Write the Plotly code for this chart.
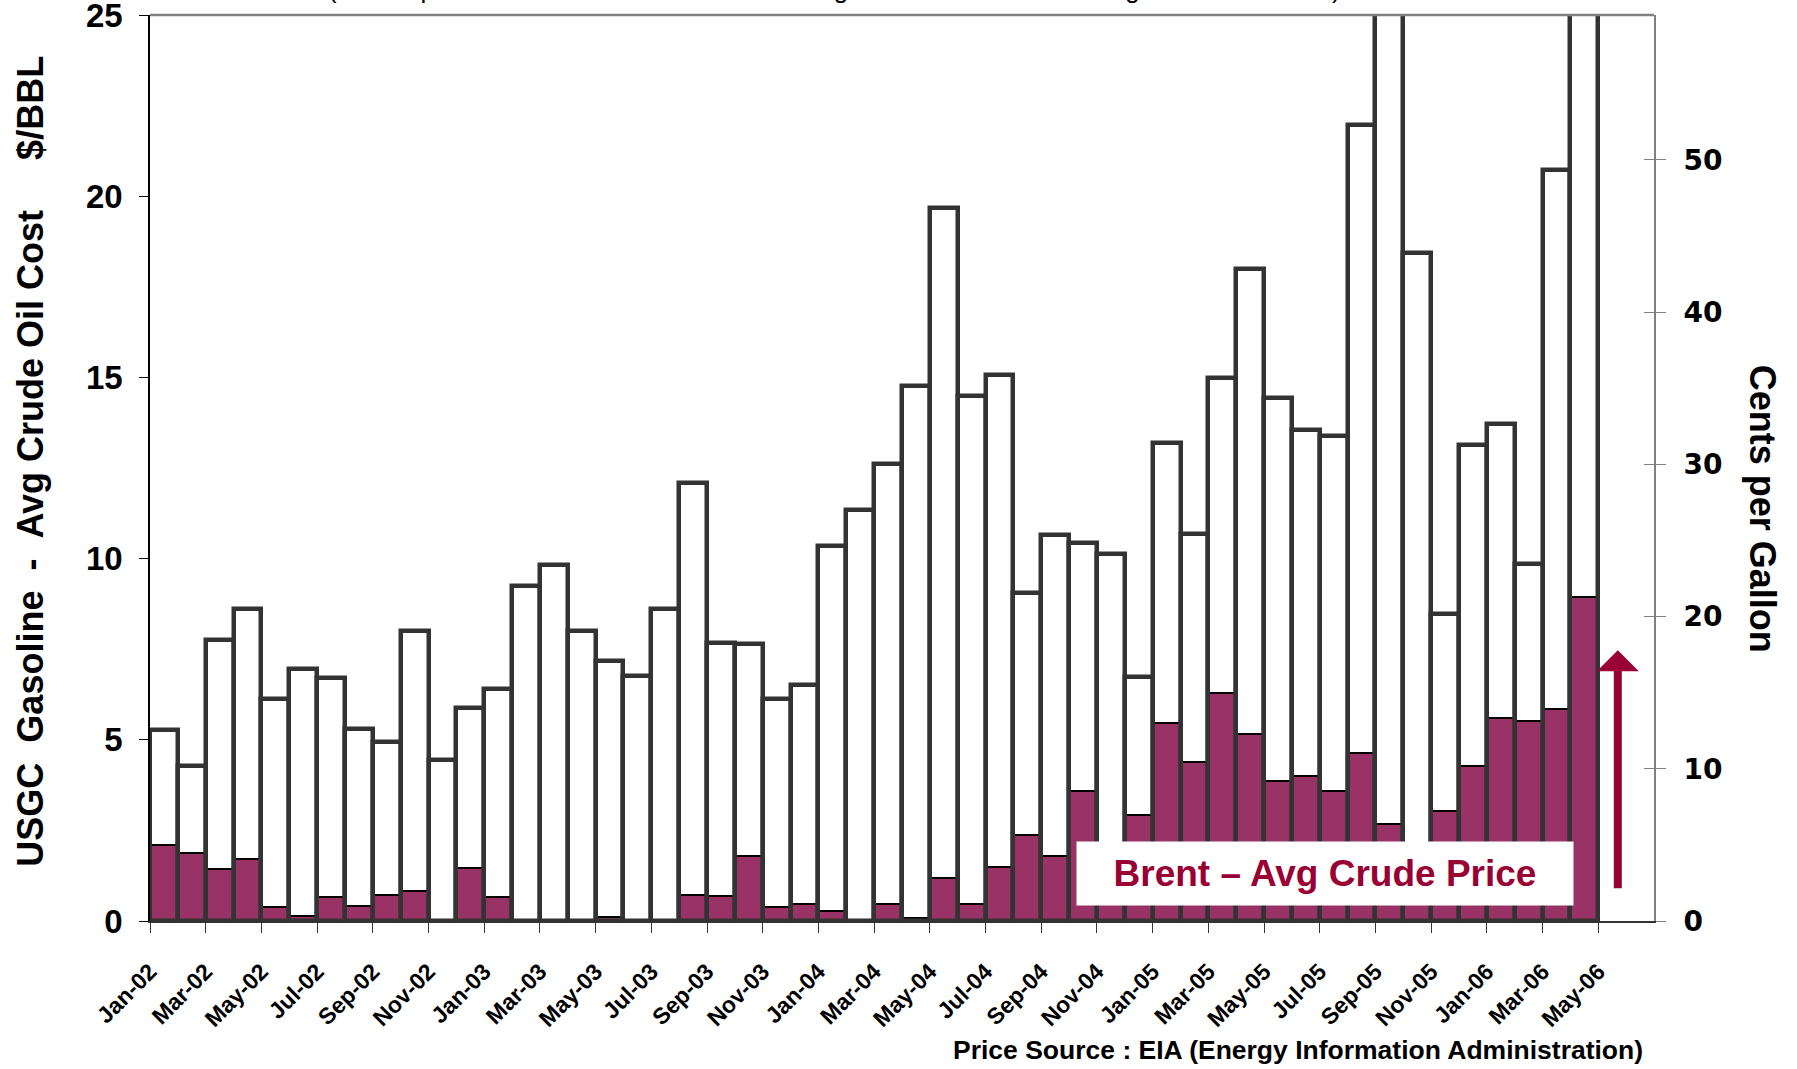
import plotly.graph_objects as go

# ---------------- data ----------------
months = [
    "Jan-02", "Feb-02", "Mar-02", "Apr-02", "May-02", "Jun-02", "Jul-02", "Aug-02", "Sep-02", "Oct-02", "Nov-02", "Dec-02",
    "Jan-03", "Feb-03", "Mar-03", "Apr-03", "May-03", "Jun-03", "Jul-03", "Aug-03", "Sep-03", "Oct-03", "Nov-03", "Dec-03",
    "Jan-04", "Feb-04", "Mar-04", "Apr-04", "May-04", "Jun-04", "Jul-04", "Aug-04", "Sep-04", "Oct-04", "Nov-04", "Dec-04",
    "Jan-05", "Feb-05", "Mar-05", "Apr-05", "May-05", "Jun-05", "Jul-05", "Aug-05", "Sep-05", "Oct-05", "Nov-05", "Dec-05",
    "Jan-06", "Feb-06", "Mar-06", "Apr-06",
]

# USGC Gasoline - Avg Crude Oil Cost ($/BBL)
gasoline_spread = [
    5.28, 4.29, 7.75, 8.60, 6.12, 6.96, 6.71, 5.29, 4.94, 8.01, 4.43, 5.89,
    6.40, 9.25, 9.82, 8.01, 7.18, 6.75, 8.62, 12.10, 7.67, 7.64, 6.12, 6.50,
    10.34, 11.34, 12.61, 14.75, 19.68, 14.50, 15.07, 9.05, 10.64, 10.42, 10.13, 6.73,
    13.20, 10.67, 14.99, 17.99, 14.44, 13.55, 13.38, 21.97, 31.00, 18.44, 8.46, 13.13,
    13.72, 9.85, 20.73, 27.50,
]

# Brent - Avg Crude Price ($/BBL)
brent_spread = [
    2.10, 1.89, 1.43, 1.70, 0.39, 0.13, 0.67, 0.41, 0.72, 0.83, 0.00, 1.46,
    0.66, 0.00, 0.00, 0.00, 0.12, 0.00, 0.00, 0.73, 0.68, 1.80, 0.39, 0.46,
    0.28, 0.00, 0.46, 0.07, 1.20, 0.46, 1.49, 2.36, 1.80, 3.59, 2.00, 2.93,
    5.46, 4.38, 6.28, 5.15, 3.87, 4.01, 3.59, 4.64, 2.69, 1.60, 3.04, 4.29,
    5.60, 5.53, 5.84, 8.95,
]

tick_labels = [
    "Jan-02", "Mar-02", "May-02", "Jul-02", "Sep-02", "Nov-02",
    "Jan-03", "Mar-03", "May-03", "Jul-03", "Sep-03", "Nov-03",
    "Jan-04", "Mar-04", "May-04", "Jul-04", "Sep-04", "Nov-04",
    "Jan-05", "Mar-05", "May-05", "Jul-05", "Sep-05", "Nov-05",
    "Jan-06", "Mar-06", "May-06",
]

right_ticks = [0, 10, 20, 30, 40, 50]

n_slots = 54  # Jan-02 .. Jun-06 on the category axis
xpos = list(range(len(months)))
tickvals = [2 * k - 0.5 for k in range(len(tick_labels))]

LEFT_MAX = 25
RIGHT_MAX = LEFT_MAX * 100 / 42  # $/BBL -> cents per gallon

MAGENTA = "#993366"
DARK = "#333333"
RED = "#990033"
GRAY = "#808080"
BOLD = "Arial, Liberation Sans, sans-serif"

fig = go.Figure()
fig.add_bar(x=xpos, y=gasoline_spread, width=1.0,
            marker=dict(color="white", line=dict(width=0)), hoverinfo="skip")
fig.add_bar(x=xpos, y=brent_spread, width=1.0,
            marker=dict(color=MAGENTA, line=dict(color="black", width=2)),
            name="Brent - Avg Crude Price")
fig.add_bar(x=xpos, y=gasoline_spread, width=1.0,
            marker=dict(color="rgba(0,0,0,0)", line=dict(color=DARK, width=4.5)),
            name="USGC Gasoline - Avg Crude Oil Cost")
# empty traces so that the secondary (cents per gallon) axes are drawn
fig.add_scatter(x=[], y=[], yaxis="y2", showlegend=False, hoverinfo="skip")
fig.add_scatter(x=[], y=[], yaxis="y3", showlegend=False, hoverinfo="skip")

fig.update_layout(
    width=1797, height=1069,
    margin=dict(l=150, r=143, t=15, b=148, autoexpand=False),
    barmode="overlay", bargap=0,
    plot_bgcolor="white", paper_bgcolor="white",
    showlegend=False,
    xaxis=dict(
        range=[-0.5, n_slots - 0.5], automargin=False,
        tickmode="array", tickvals=tickvals, ticktext=tick_labels,
        tickangle=-45, ticks="outside", ticklen=10, tickcolor=DARK, tickwidth=1,
        showline=True, linecolor=DARK, linewidth=2,
        showgrid=False, zeroline=False,
        tickfont=dict(family=BOLD, size=23, color="black", weight="bold"),
        ticklabelstandoff=16, ticklabeloverflow="allow",
    ),
    yaxis=dict(
        range=[0, LEFT_MAX], automargin=False,
        tickmode="array", tickvals=[0, 5, 10, 15, 20, 25],
        ticks="outside", ticklen=9, tickcolor="black",
        showline=True, linecolor="black", linewidth=1.5,
        showgrid=False, zeroline=False,
        tickfont=dict(family=BOLD, size=33, color="black", weight="bold"),
        ticklabelstandoff=10, ticklabeloverflow="allow",
    ),
    yaxis2=dict(
        overlaying="y", side="right", anchor="x", automargin=False,
        range=[0, RIGHT_MAX], tickmode="array", tickvals=right_ticks,
        ticks="outside", ticklen=10, tickcolor=GRAY,
        showline=True, linecolor=GRAY, linewidth=2,
        showgrid=False, zeroline=False,
        tickfont=dict(family="DejaVu Sans, sans-serif", size=28, color="black", weight="bold"),
        ticklabelstandoff=12, ticklabeloverflow="allow",
    ),
    yaxis3=dict(
        overlaying="y", side="right", anchor="x", automargin=False,
        range=[0, RIGHT_MAX], tickmode="array", tickvals=right_ticks,
        ticks="inside", ticklen=10, tickcolor=GRAY,
        showline=False, showticklabels=False,
        showgrid=False, zeroline=False,
    ),
)

fig.add_shape(type="line", xref="paper", yref="paper", x0=0, x1=1, y0=1, y1=1,
              line=dict(color=GRAY, width=2.5))

nb = "\u00a0"
left_title = f"USGC{nb*2}Gasoline{nb*2}-{nb*2}Avg Crude Oil Cost{nb*5}$/BBL"

fig.add_annotation(text=left_title, xref="paper", yref="paper", x=0, y=0.507,
                   xshift=-119, xanchor="center", yanchor="middle", textangle=-90,
                   showarrow=False, font=dict(family=BOLD, size=36, color="black", weight="bold"))
fig.add_annotation(text="Cents per Gallon", xref="paper", yref="paper", x=1, y=0.455,
                   xshift=108, xanchor="center", yanchor="middle", textangle=90,
                   showarrow=False, font=dict(family=BOLD, size=36, color="black", weight="bold"))
fig.add_annotation(text="Price Source : EIA (Energy Information Administration)",
                   xref="paper", yref="paper", x=0.994, y=-0.142,
                   xanchor="right", yanchor="middle", showarrow=False,
                   font=dict(family=BOLD, size=26.5, color="black", weight="bold"))
fig.add_annotation(text="(Price Spread between USGC Unleaded Regular Gasoline and Average Crude Oil Cost)",
                   xref="paper", yref="paper", x=0.455, y=1, yshift=9,
                   xanchor="center", yanchor="bottom", showarrow=False,
                   font=dict(family=BOLD, size=26, color="black"))
fig.add_annotation(text="Brent \u2013 Avg Crude Price", xref="paper", yref="paper",
                   x=0.781, y=0.0524, xanchor="center", yanchor="middle",
                   showarrow=False, bgcolor="white", width=490, height=57, borderpad=3,
                   font=dict(family=BOLD, size=37, color=RED, weight="bold"))
fig.add_annotation(x=52.2, y=7.47, ax=52.2, ay=0.86, xref="x", yref="y", axref="x", ayref="y",
                   text="", showarrow=True, arrowhead=1, arrowwidth=8, arrowsize=0.875,
                   arrowcolor=RED)

fig.write_html("out.html", config={"displayModeBar": False},
               post_script="document.body.style.margin='0px';")
